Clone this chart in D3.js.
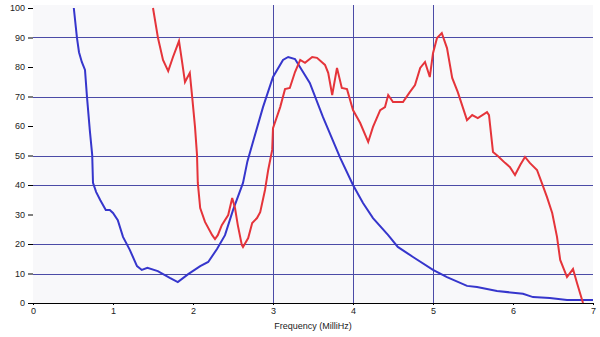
<!DOCTYPE html>
<html>
<head>
<meta charset="utf-8">
<script src="https://cdn.jsdelivr.net/npm/d3@7"></script>
<style>
  body { margin:0; background:#fff; }
  svg text { font-family:"Liberation Sans", Arial, sans-serif; font-size:9px; fill:#222; }
</style>
</head>
<body>
<div id="chart"></div>
<script>
let screen = {width:600, height:337};
let margin = {top:8, right:7, bottom:34, left:33};

// blue series (x in MilliHz, y value)
let blueX = [0.51,0.55,0.575,0.61,0.65,0.675,0.71,0.74,0.75,0.79,0.84,0.91,0.96,1.0,1.06,1.125,1.21,1.3,1.36,1.43,1.56,1.71,1.81,1.94,2.09,2.19,2.3,2.4,2.5,2.625,2.68,2.875,3.0,3.125,3.19,3.275,3.36,3.46,3.625,3.84,4.0,4.125,4.25,4.44,4.56,4.75,5.0,5.175,5.425,5.55,5.8,6.125,6.25,6.46,6.675,7.0];
let blueY = [100,89.8,85,81.7,79,69.8,58.6,50.2,40.7,37.6,34.9,31.5,31.5,30.5,28.1,22.4,18,12.5,11.2,11.9,10.8,8.5,7.1,9.8,12.5,13.9,18.3,23,31.5,40.7,48,66.4,76.6,82.4,83.4,82.7,79,74.6,63,49.2,40,33.9,28.8,23,19,15.6,11.2,8.8,5.8,5.4,4.1,3.1,2,1.7,1,1];

// red series
let redX = [1.5,1.5625,1.625,1.69,1.75,1.825,1.86,1.9,1.96,1.99,2.025,2.05,2.06,2.09,2.15,2.24,2.275,2.31,2.36,2.44,2.49,2.525,2.56,2.61,2.625,2.69,2.74,2.8,2.84,2.9,2.94,2.99,3.0,3.09,3.15,3.21,3.275,3.34,3.4,3.49,3.55,3.65,3.69,3.74,3.8,3.86,3.925,4.0,4.09,4.19,4.25,4.34,4.4,4.44,4.5,4.625,4.71,4.775,4.84,4.9,4.96,5.0,5.05,5.11,5.175,5.24,5.31,5.425,5.49,5.56,5.675,5.7,5.75,5.81,5.9,5.96,6.025,6.09,6.15,6.21,6.3,6.36,6.425,6.49,6.55,6.59,6.675,6.75,6.8,6.875];
let redY = [100,89.8,82.4,78.6,83.4,88.8,82.4,74.9,78,69.8,59.7,50.2,40.7,32.2,27.5,23,21.7,23,26.4,29.8,35.6,32.2,26.4,19.7,19,22,27.1,28.8,30.8,38.3,45.1,51.9,59.3,66.4,72.5,72.9,78.3,82.4,81.4,83.4,83.1,80.7,78,70.5,79.7,72.9,72.5,65.4,61,54.6,59.7,65.4,66.4,70.5,68.1,68.1,71.5,73.9,79.7,81.7,76.6,84.7,89.8,91.5,86.4,76.3,71.5,62,63.7,62.7,64.7,63.7,51.2,49.8,47.5,46.1,43.4,46.8,49.5,47.5,45.1,40.7,35.9,30.5,22.4,14.6,8.8,11.5,6.8,0];

let xTicks = [0,1,2,3,4,5,6,7];
let yTicks = [0,10,20,30,40,50,60,70,80,90,100];
let xGrid = [3,4,5];
let yGrid = [10,20,40,50,70,90];
let xTitle = "Frequency (MilliHz)";

let xScale = d3.scaleLinear().domain([0,7]).range([margin.left, screen.width-margin.right]);
let yScale = d3.scaleLinear().domain([0,100]).range([screen.height-margin.bottom, margin.top]);

let svg = d3.select("#chart").append("svg")
    .attr("width", screen.width)
    .attr("height", screen.height);

svg.append("rect")
    .attr("x", xScale(0)).attr("y", yScale(100)-3)
    .attr("width", xScale(7)-xScale(0))
    .attr("height", yScale(0)-yScale(100)+3)
    .attr("fill", "#f8f8fa");

let grid = svg.append("g");
grid.selectAll(".hg").data(yGrid).enter().append("line")
    .attr("x1", xScale(0)).attr("x2", xScale(7))
    .attr("y1", d => Math.round(yScale(d))+0.5).attr("y2", d => Math.round(yScale(d))+0.5)
    .attr("stroke", "#4b4ba6").attr("stroke-width", 1);
grid.selectAll(".vg").data(xGrid).enter().append("line")
    .attr("x1", d => Math.round(xScale(d))+0.5).attr("x2", d => Math.round(xScale(d))+0.5)
    .attr("y1", yScale(100)-3).attr("y2", yScale(0))
    .attr("stroke", "#4b4ba6").attr("stroke-width", 1);

let xAxis = svg.append("g")
    .attr("transform", "translate(0," + yScale(0) + ")")
    .call(d3.axisBottom(xScale).tickValues(xTicks).tickSize(2).tickPadding(3).tickFormat(d3.format("d")));
xAxis.select(".domain").attr("d", "M" + (xScale(0)-5) + ",0.5H" + xScale(7)).attr("stroke", "#000");

let yAxis = svg.append("g")
    .attr("transform", "translate(" + xScale(0) + ",0)")
    .call(d3.axisLeft(yScale).tickValues(yTicks).tickSize(5).tickPadding(3));
yAxis.select(".domain").remove();

svg.selectAll(".tick text").style("font-family", "Liberation Sans, Arial, sans-serif").style("font-size", "9px").attr("fill", "#222");

svg.append("text")
    .attr("x", (xScale(0)+xScale(7))/2)
    .attr("y", screen.height - 8)
    .attr("text-anchor", "middle")
    .text(xTitle);

let line = d3.line()
    .x(d => xScale(d[0]))
    .y(d => yScale(d[1]));

svg.append("path")
    .datum(d3.zip(blueX, blueY))
    .attr("d", line)
    .attr("fill", "none")
    .attr("stroke", "#3636cc")
    .attr("stroke-width", 2);

svg.append("path")
    .datum(d3.zip(redX, redY))
    .attr("d", line)
    .attr("fill", "none")
    .attr("stroke", "#e5343a")
    .attr("stroke-width", 2);
</script>
</body>
</html>
